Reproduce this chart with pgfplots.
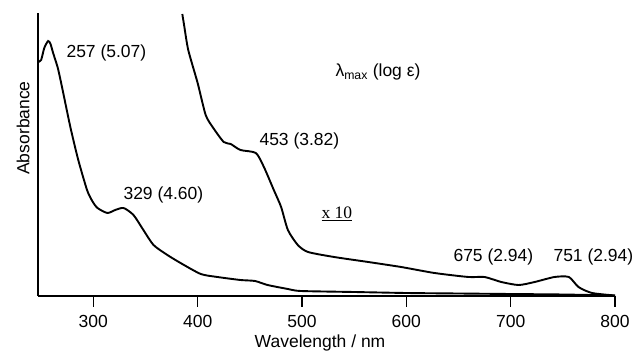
\documentclass[border=0pt]{standalone}
\usepackage{pgfplots}
\pgfplotsset{compat=1.18}
\usepackage{fontspec}
\setmainfont{Liberation Sans}
\newfontfamily\timesfont{Liberation Serif}
\begin{document}
\begin{tikzpicture}
\begin{axis}[
  scale only axis,
  width=577pt, height=283pt,
  xmin=247, xmax=800, ymin=0, ymax=283,
  axis lines=left,
  axis line style={-, line width=1.5pt},
  xtick={300,400,500,600,700,800},
  ytick=\empty,
  xtick pos=bottom,
  xtick align=outside,
  major tick length=11pt,
  tick style={black, line width=1.6pt},
  tick label style={font=\fontsize{17.5}{19}\selectfont},
  /pgf/number format/assume math mode=true,
  xticklabel style={yshift=-5pt},
  clip=false,
]
\addplot[black, line width=1.9pt, smooth, tension=0.4] coordinates {
(247,234) (250,236) (253,248) (256.7,255) (259,252) (261.5,243) (266,228) (270,209) (278,169) (285.6,136) (294,106) (299,95) (304,88) (313.5,83) (321,86) (329,88) (338.5,81) (348,66) (357.7,51) (371,41) (383.6,33) (403,22) (419,19) (441,16) (455,15) (467,11) (486.5,7) (499,5) (550,4) (600,3) (650,2.5) (700,2) (750,1.5) (800,0.5)
};
\addplot[black, line width=1.9pt, smooth, tension=0.4] coordinates {
(385.3,282) (387,271) (391,246) (400,213) (407.7,181) (415,168) (425,154) (431.7,152) (441,146) (455.8,143) (463.5,129) (473,106) (480,89) (486.5,66) (496,51) (505.8,44) (530.8,39) (563.5,34) (595,29) (627,23) (659.6,19) (675,19) (691,14) (707.7,11) (723,14) (742,19) (755.8,19) (765,9) (778,3) (800,0.5)
};
\pgfplotsinvokeforeach{300,400,500,600,700,800}{
  \draw[black, line width=1.6pt] (axis cs:#1,0) -- ++(0pt,-11pt);
}
\end{axis}
\begin{scope}[font=\fontsize{17.5}{19}\selectfont, x=1pt, y=-1pt, shift={(current axis.south west)}, shift={(-38pt,296pt)}]
\node[anchor=west] at (63,53) {257 (5.07)};
\node[anchor=west] at (120,195) {329 (4.60)};
\node[anchor=west] at (256,141) {453 (3.82)};
\node[anchor=west] at (332,72) {λ\textsubscript{max} (log ε)};
\node[anchor=west] at (450,257) {675 (2.94)};
\node[anchor=west] at (550,257) {751 (2.94)};
\node[anchor=west, font=\timesfont\fontsize{17.5}{19}\selectfont] at (318,214) {\underline{x 10}};
\node at (320,343) {Wavelength / nm};
\node[rotate=90] at (23,128) {Absorbance};
\end{scope}
\pgfresetboundingbox
\path[use as bounding box] (current axis.south west) ++(-38pt,-65pt) rectangle ++(635pt,361pt);
\end{tikzpicture}
\end{document}
